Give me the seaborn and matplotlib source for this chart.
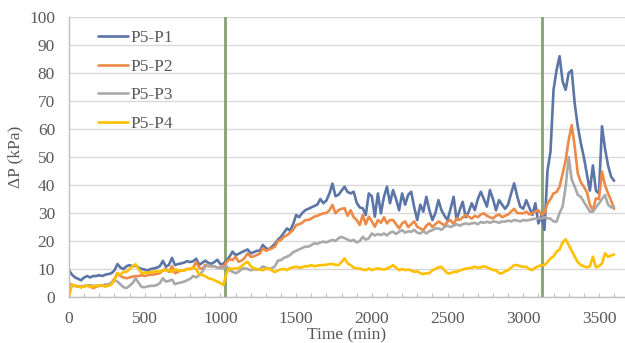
import numpy as np
import pandas as pd
import matplotlib
matplotlib.use("Agg")
import matplotlib.pyplot as plt
import seaborn as sns
from matplotlib.ticker import MultipleLocator

# Sampling time (min), one reading every 20 min
time_min = list(range(0, 3601, 20))

p5_p1 = [
    9.5, 8, 7, 6.5, 6, 7, 7.5, 7, 7.5, 7.5,
    7.8, 7.5, 8, 8.2, 8.5, 9.5, 11.8, 10.5, 10, 11,
    11.4, 11, 11.2, 10.5, 10, 9.8, 9.5, 10, 10.2, 10.5,
    11, 12.9, 10.8, 11.5, 14, 11.4, 11.8, 12, 12.3, 12.8,
    12.5, 12.8, 13.7, 11.5, 12.2, 13, 12.2, 11.9, 12.5, 13.3,
    11.7, 11.9, 13, 14.4, 16.2, 15, 15.4, 16, 16.5, 17,
    15.6, 16, 16.5, 16.5, 18.6, 17.5, 17, 18, 19, 20.5,
    21.5, 23, 24.5, 23.7, 26, 29.3, 28.5, 30, 31, 31.5,
    32, 32.5, 33, 35, 33.5, 34.5, 37, 40.5, 36, 36.5,
    38, 39.4, 37.5, 37, 37.6, 33.7, 32, 31.7, 29.3, 37,
    36, 28.7, 37, 29.9, 35.8, 39.4, 33.5, 38.2, 35, 31,
    37, 33, 36.5, 37.6, 32, 27.5, 33, 30.5, 35.8, 31,
    27.5, 30, 34.6, 31, 29, 27.5, 31.5, 35.8, 27.5, 31,
    34, 28.5, 30.5, 33.5, 31, 35, 37.6, 35, 32.3, 38.2,
    35, 31, 34.6, 33, 31.5, 33, 37, 40.6, 36, 32.3,
    31.5, 34.6, 32, 29.3, 33.5, 26.3, 29, 24, 45, 52,
    74, 81, 86, 77, 74, 80, 81, 69, 61, 55,
    50, 44, 38, 47, 38, 37, 61, 53, 47, 43, 41.5,
]

p5_p2 = [
    5, 4, 4, 3.8, 3.5, 3.8, 4.2, 4, 3.2, 3.8,
    4, 4.2, 3.8, 4.5, 5, 6.5, 8.5, 7.5, 7, 6.7,
    7, 7.3, 7.5, 7.5, 7.8, 7.5, 7.8, 8, 8, 8.3,
    8.5, 9.5, 10, 9, 11, 8.5, 9, 9.5, 9.5, 10,
    10, 10.5, 12.5, 10.5, 10, 11.5, 11, 11, 11, 10.5,
    10.5, 11, 12.5, 13.5, 13.2, 14.4, 12.6, 13, 14, 15.6,
    14.4, 14.5, 15, 15.5, 17.4, 16.5, 17, 17.4, 18, 20,
    20.4, 21.5, 22.1, 23, 24, 25.7, 26, 26.5, 27.5, 27.5,
    28, 28.7, 29, 29.5, 29.9, 30, 31, 32.9, 29.9, 31,
    31.5, 31.7, 29, 31, 28.5, 27.5, 25.7, 29.3, 26, 28.7,
    27, 25.1, 27.5, 26.5, 28.5, 26.3, 27.5, 27.5, 26, 24.5,
    26.3, 27, 25, 26, 27, 25.1, 24.5, 23.9, 25.5, 26.3,
    25, 26, 27, 26.3, 25.5, 26.9, 27.5, 26, 28.1, 27.5,
    28.5, 29.3, 28.7, 28, 29, 28.5, 29.5, 29.9, 29, 28.5,
    28.1, 29, 29.5, 28.5, 29, 29.5, 30.5, 31.5, 30, 29.9,
    29.9, 30.5, 29.5, 30, 30.5, 31, 29.5, 30, 33.4, 35,
    37, 37.5, 39.4, 44, 48.9, 56, 61.4, 53.7, 44.2, 41,
    39.4, 37.5, 33, 31, 35.2, 35, 44.8, 40, 37, 34.5, 31.5,
]

p5_p3 = [
    4.5, 4, 4, 3.8, 3.8, 4, 4, 4.2, 4, 4,
    4, 4.2, 4.5, 4.5, 5, 6, 5.5, 4.5, 3.5, 3.2,
    4, 5, 6.7, 5, 3.6, 3.5, 3.8, 4, 4, 4.3,
    5, 6.7, 5.5, 5.8, 6.2, 4.6, 5, 5.2, 5.5, 6,
    6.5, 7.5, 7, 7.8, 9, 11, 11.2, 11, 11, 10.5,
    10.3, 10.3, 11, 9.6, 9, 8.5, 9, 10, 10.3, 10,
    9.5, 9.9, 9.8, 10, 10.9, 10.5, 10, 10.3, 11, 13,
    13.2, 14, 14.4, 15, 16, 16.5, 17, 17.5, 18, 18,
    18.5, 19.2, 19, 19.5, 19.8, 19.5, 20, 20.4, 20, 21,
    21.5, 21, 20.5, 20, 20.4, 19.5, 20, 21.5, 20.5, 21,
    22.7, 22, 22.5, 22.1, 22.7, 22, 23, 23.3, 22.5, 23.3,
    23.9, 23, 23.5, 23.3, 24, 23, 22.7, 23.5, 22.7, 23.5,
    23.9, 24.5, 24.5, 24, 25, 25.5, 25, 25.5, 26, 25.5,
    26, 26.3, 26, 26.3, 26.5, 26, 26.8, 26.5, 26.9, 26.5,
    27, 26.9, 26.5, 27, 26.9, 27.3, 27, 27.5, 27.3, 27,
    27.5, 27.3, 27.5, 27.8, 28, 28, 28.1, 28.5, 28.1, 28,
    27, 26.9, 30, 32.3, 39.4, 50, 42, 39.4, 36.5, 35.8,
    34, 32.3, 30.5, 30.5, 32, 33.4, 35, 36.4, 33, 32, 32.3,
]

p5_p4 = [
    0, 4.5, 4, 3.8, 3.5, 3.8, 4.2, 3.5, 3.8, 4,
    4, 4.2, 3.8, 4, 4.5, 6, 8.5, 8, 9, 9,
    10, 11, 11.7, 10, 8.5, 8.8, 8.5, 9, 9, 9.2,
    9, 9.5, 9.5, 9.5, 9, 10, 9.5, 9.5, 9.5, 10,
    10, 10.5, 10, 8, 7.9, 7.5, 6.7, 6.5, 6, 5.5,
    5, 4.3, 8.5, 10.3, 10, 10.2, 10.3, 11, 12, 12.6,
    11, 10.3, 10, 9.8, 9.6, 10, 10.3, 9.5, 8.9, 9.5,
    9.9, 10, 9.6, 10.3, 10.6, 10.8, 10.5, 10.6, 11, 11,
    11.4, 11, 11.2, 11.4, 11.4, 11.5, 11.8, 11.8, 11.5, 11.4,
    12.5, 13.8, 12, 11.4, 10.5, 10.2, 10.2, 9.8, 9.6, 10.2,
    9.6, 10, 10.2, 10, 9.8, 10.2, 10.7, 11.4, 10.5, 9.6,
    10, 9.6, 9.8, 9.5, 9, 9.2, 8.5, 8.2, 8.5, 8.5,
    9.6, 10, 10.6, 10.8, 9.5, 8.5, 8.5, 9, 9, 9.5,
    9.8, 10.2, 10.2, 10.5, 10.8, 10.5, 10.6, 11, 10.6, 10.2,
    9.6, 9.6, 8.5, 8.5, 9.2, 9.6, 10.5, 11.4, 11.4, 11,
    10.8, 10.8, 10, 9.6, 10.5, 11, 11.4, 11.4, 12.5, 13.8,
    14.5, 16.2, 17, 19.5, 20.6, 18.6, 16.5, 14.4, 12.5, 11.4,
    11, 10.6, 11, 14.4, 10.6, 11, 12, 15.6, 14.4, 14.8, 15.2,
]

series_names = ["P5-P1", "P5-P2", "P5-P3", "P5-P4"]
series_colors = ["#5b75a6", "#ed8a47", "#a9a9a9", "#ffc000"]
event_times = [1030, 3125]

df = pd.concat(
    [
        pd.DataFrame({"Time": time_min, "dP": vals, "Series": name})
        for name, vals in zip(series_names, [p5_p1, p5_p2, p5_p3, p5_p4])
    ],
    ignore_index=True,
)

sns.set_theme(style="whitegrid")
plt.rcParams["font.family"] = ["Liberation Serif", "DejaVu Serif"]

fig = plt.figure(figsize=(6.25, 3.43), dpi=100)
ax = fig.add_axes([0.1104, 0.134, 0.8896, 0.8164])

sns.lineplot(
    data=df, x="Time", y="dP", hue="Series", hue_order=series_names,
    palette=dict(zip(series_names, series_colors)), linewidth=1.9, ax=ax,
)

for t in event_times:
    ax.axvline(t, color="#84a070", linewidth=2.0, zorder=1)

ax.set_xlim(0, 3672)
ax.set_ylim(0, 100)
ax.xaxis.set_major_locator(MultipleLocator(500))
ax.xaxis.set_minor_locator(MultipleLocator(100))
ax.yaxis.set_major_locator(MultipleLocator(10))

ax.grid(axis="y", color="#d9d9d9", linewidth=1.0)
ax.grid(axis="x", visible=False)
ax.set_facecolor("white")
for side in ["top", "right"]:
    ax.spines[side].set_visible(False)
for side in ["left", "bottom"]:
    ax.spines[side].set_color("#bfbfbf")
    ax.spines[side].set_linewidth(1.0)

ax.tick_params(axis="x", which="both", direction="in", length=3, width=0.8,
               color="#bfbfbf", labelsize=12.5, labelcolor="#595959", pad=10, bottom=True)
ax.tick_params(axis="y", length=0, labelsize=12.5, labelcolor="#595959", pad=10)

ax.set_xlabel("Time (min)", fontsize=12.5, color="#595959", labelpad=0)
ax.set_ylabel("ΔP (kPa)", fontsize=12.5, color="#595959", labelpad=4)

leg = ax.legend(
    loc="upper left", bbox_to_anchor=(0.024, 1.01), frameon=False,
    fontsize=12.5, handlelength=1.75, handletextpad=0.1, labelspacing=0.72,
)
for txt in leg.get_texts():
    txt.set_color("#595959")

fig.savefig("out.png", dpi=100, facecolor="white")
